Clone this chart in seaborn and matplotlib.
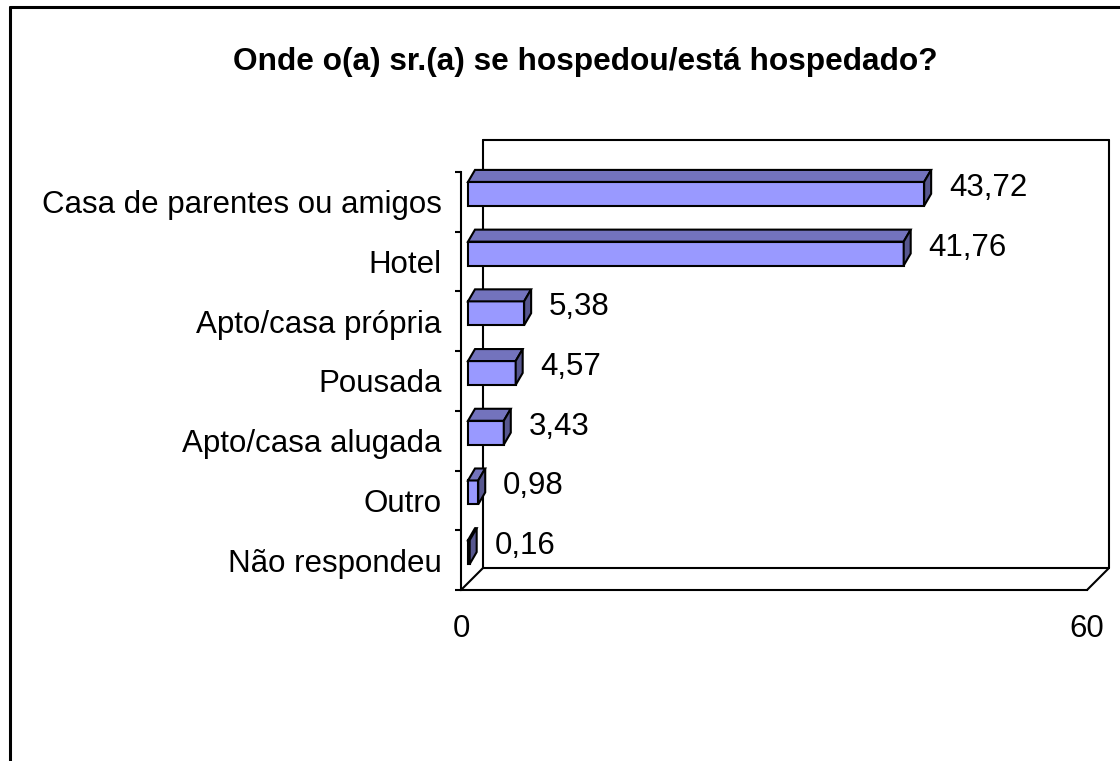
import numpy as np
import pandas as pd
import matplotlib
matplotlib.use("Agg")
import matplotlib.pyplot as plt
import matplotlib.transforms as mtransforms
from matplotlib.patches import Polygon
from matplotlib.lines import Line2D
import seaborn as sns

# ---- data ----
categories = ["Casa de parentes ou amigos", "Hotel", "Apto/casa própria", "Pousada",
              "Apto/casa alugada", "Outro", "Não respondeu"]
values = [43.72, 41.76, 5.38, 4.57, 3.43, 0.98, 0.16]
x_ticks = [0, 60]
title = "Onde o(a) sr.(a) se hospedou/está hospedado?"

FRONT = "#9999ff"
TOP = "#7373bd"
SIDE = "#57578f"

sns.set_theme(style="white")
plt.rcParams["font.family"] = ["Liberation Sans", "DejaVu Sans"]
plt.rcParams["text.color"] = "black"
plt.rcParams["xtick.color"] = "black"
plt.rcParams["ytick.color"] = "black"
plt.rcParams["xtick.labelcolor"] = "black"
plt.rcParams["ytick.labelcolor"] = "black"

W, H, DPI = 1120, 761, 100
LW = 1.5
fig = plt.figure(figsize=(W / DPI, H / DPI), dpi=DPI)

def fx(px):
    return px / W

def fy(py):
    return 1 - py / H

ax = fig.add_axes([fx(461), fy(590), fx(1087 - 461), (590 - 172) / H])
ax.set_facecolor("none")

df = pd.DataFrame({"cat": categories, "val": values})
sns.barplot(data=df, x="val", y="cat", orient="h", color=FRONT, saturation=1,
            width=0.4, edgecolor="black", linewidth=LW, ax=ax, zorder=3)

ax.set_xlim(0, 60)
ax.set_ylim(len(categories) - 0.5, -0.5)
ax.set_xlabel("")
ax.set_ylabel("")

# spines
for s in ["top", "right"]:
    ax.spines[s].set_visible(False)
for s in ["left", "bottom"]:
    ax.spines[s].set_color("black")
    ax.spines[s].set_linewidth(LW)

ax.set_xticks(x_ticks)
ax.set_xticklabels([str(t) for t in x_ticks], fontsize=22.5, color="black")
ax.tick_params(axis="x", direction="out", length=5, width=LW, color="black", pad=12)
ax.set_yticks(range(len(categories)))
ax.set_yticklabels(categories, fontsize=22.5, color="black")
ax.tick_params(axis="y", which="major", length=0, pad=14)
ax.set_yticks(np.arange(-0.5, len(categories), 1.0), minor=True)
ax.tick_params(axis="y", which="minor", direction="out", length=4.3, width=LW,
               color="black", left=True)

# ---- 3D geometry in display pixels ----
dx_bar, dy_bar = 7, 8        # bar plane shift
dep_x, dep_y = 7, 12         # bar depth
wall_d = 22                  # wall depth
wall_extra = 10              # wall top above axis top

shift = mtransforms.ScaledTranslation(dx_bar / DPI, dy_bar / DPI, fig.dpi_scale_trans)
ident = mtransforms.IdentityTransform()

for p in ax.patches:
    p.set_transform(ax.transData + shift)
    x0, y0 = p.get_x(), p.get_y()
    w, h = p.get_width(), p.get_height()
    (l, b) = ax.transData.transform((x0, y0 + h))
    (r, t) = ax.transData.transform((x0 + w, y0))
    l += dx_bar; r += dx_bar; b += dy_bar; t += dy_bar
    top = Polygon([(l, t), (r, t), (r + dep_x, t + dep_y), (l + dep_x, t + dep_y)],
                  closed=True, facecolor=TOP, edgecolor="black", linewidth=LW,
                  transform=ident, clip_on=False, zorder=3)
    side = Polygon([(r, b), (r, t), (r + dep_x, t + dep_y), (r + dep_x, b + dep_y)],
                   closed=True, facecolor=SIDE, edgecolor="black", linewidth=LW,
                   transform=ident, clip_on=False, zorder=3)
    ax.add_patch(top)
    ax.add_patch(side)

# walls
bx0, by0 = ax.transAxes.transform((0, 0))
bx1, by1 = ax.transAxes.transform((1, 1))
wl = [
    [(bx0 + wall_d, by0 + wall_d), (bx0 + wall_d, by1 + wall_extra + wall_d)],
    [(bx0 + wall_d, by1 + wall_extra + wall_d), (bx1 + wall_d, by1 + wall_extra + wall_d)],
    [(bx1 + wall_d, by1 + wall_extra + wall_d), (bx1 + wall_d, by0 + wall_d)],
    [(bx0 + wall_d, by0 + wall_d), (bx1 + wall_d, by0 + wall_d)],
    [(bx0, by0), (bx0 + wall_d, by0 + wall_d)],
    [(bx1, by0), (bx1 + wall_d, by0 + wall_d)],
]
for seg in wl:
    xs, ys = zip(*seg)
    ax.add_line(Line2D(xs, ys, color="black", linewidth=LW, transform=ident,
                       clip_on=False, zorder=1))

# value labels
for i, v in enumerate(values):
    ax.annotate(f"{v:.2f}".replace(".", ","), xy=(v, i), xycoords="data",
                xytext=((dx_bar + 25) * 72 / DPI, (dy_bar + 6) * 72 / DPI),
                textcoords="offset points", ha="left", va="center",
                fontsize=22.5, color="black", zorder=5)

# title
fig.text(fx(585), fy(62), title, ha="center", va="center", fontsize=22.8,
         fontweight="bold", color="black")

# outer frame
fig.add_artist(Line2D([fx(10), fx(10)], [fy(7), 0], color="black", linewidth=2.2,
                      transform=fig.transFigure))
fig.add_artist(Line2D([fx(10), 1], [fy(7), fy(7)], color="black", linewidth=2.2,
                      transform=fig.transFigure))

fig.savefig("out.png", dpi=DPI, facecolor="white")
